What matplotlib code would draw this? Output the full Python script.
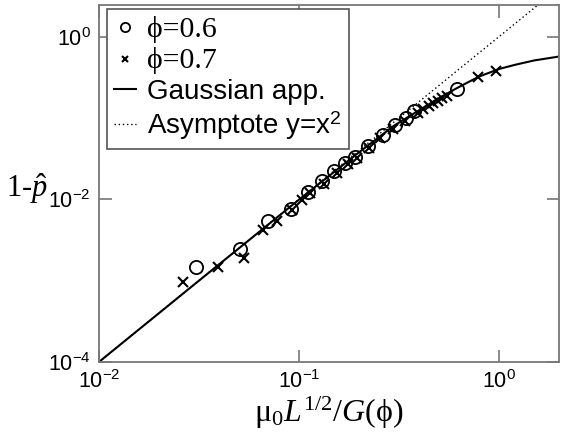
import matplotlib
matplotlib.use("Agg")
from matplotlib import pyplot as plt

plt.rcParams["font.family"] = ["Liberation Sans", "DejaVu Sans"]
plt.rcParams["mathtext.fontset"] = "custom"
plt.rcParams["mathtext.rm"] = "Liberation Serif"
plt.rcParams["mathtext.it"] = "Liberation Serif:italic"
plt.rcParams["mathtext.fallback"] = "stix"

# phi = 0.6
x06 = [0.0304, 0.0505, 0.0703, 0.0913, 0.111, 0.131, 0.150, 0.170, 0.190,
       0.220, 0.263, 0.303, 0.344, 0.377, 0.62]
y06 = [0.00146, 0.00246, 0.00545, 0.0076, 0.0122, 0.017, 0.0222, 0.0281, 0.033,
       0.045, 0.0617, 0.0813, 0.101, 0.122, 0.23]

# phi = 0.7
x07 = [0.0262, 0.0394, 0.0528, 0.066, 0.078, 0.0925, 0.104, 0.114, 0.133,
       0.155, 0.175, 0.194, 0.224, 0.254, 0.294, 0.338, 0.394, 0.419, 0.446,
       0.470, 0.494, 0.521, 0.548, 0.789, 0.971]
y07 = [0.00097, 0.00146, 0.00189, 0.00422, 0.00535, 0.0074, 0.0099, 0.012, 0.0155,
       0.0211, 0.0268, 0.0325, 0.043, 0.0572, 0.0738, 0.0918, 0.1164, 0.128, 0.141,
       0.152, 0.162, 0.175, 0.187, 0.321, 0.373]

# gaussian approximation
xg = [0.01, 0.03, 0.1, 0.2, 0.3, 0.4, 0.5, 0.6, 0.7, 0.8, 1.0, 1.2, 1.5, 2.0]
yg = [1.0e-4, 9.0e-4, 0.0099, 0.038, 0.081, 0.125, 0.175, 0.225, 0.275, 0.325,
      0.40, 0.45, 0.51, 0.57]

# asymptote y = x^2
xa = [0.01, 2.0]
ya = [1.0e-4, 4.0]

fig = plt.figure(figsize=(5.66, 4.36), dpi=100)
ax = fig.add_axes([0.175, 0.170, 0.813, 0.8185])

ax.plot(xa, ya, ls=(0, (1, 2)), color="k", lw=1.0, label="Asymptote y=x$^\\mathdefault{2}$")
ax.plot(xg, yg, "-", color="k", lw=1.5, label="Gaussian app.")
ax.plot(x06, y06, "o", ms=9.5, mfc="none", mec="k", mew=1.3, label="ϕ=0.6")
ax.plot(x07, y07, "x", ms=7, color="k", mew=1.5, label="ϕ=0.7")

ax.set_xscale("log")
ax.set_yscale("log")
ax.set_xlim(0.01, 2.0)
ax.set_ylim(1e-4, 2.45)
ax.set_xticks([1e-2, 1e-1, 1e0])
ax.set_yticks([1e-4, 1e-2, 1e0])
ax.minorticks_off()
ax.tick_params(which="both", direction="in", top=True, right=True, length=9,
               width=1.2, color="#777777", labelsize=15.5, pad=6)
for s in ax.spines.values():
    s.set_color("#777777")
    s.set_linewidth(1.3)

ax.set_xlabel(r"$\mathrm{\mu}_{\mathit{0}}\mathit{L}^{\mathrm{1/2}}\mathrm{/}\mathit{G}\mathrm{(\phi)}$",
              fontsize=23, labelpad=1)
fig.text(0.048, 0.568, r"$\mathit{1}$-$\hat{\mathit{p}}$", fontsize=22,
         family="Liberation Serif", ha="center", va="center")

h, l = ax.get_legend_handles_labels()
order = [2, 3, 1, 0]
leg = ax.legend([h[i] for i in order], [l[i] for i in order], loc="upper left",
                bbox_to_anchor=(0.0174, 0.989), borderaxespad=0, fontsize=20,
                fancybox=False, framealpha=1, edgecolor="#555555",
                handlelength=0.8, handletextpad=0.4, labelspacing=0.16,
                borderpad=0.25, markerscale=0.7)
leg.get_frame().set_linewidth(1.2)
for t in leg.get_texts()[:2]:
    t.set_fontfamily(["Liberation Serif", "DejaVu Serif"])
    t.set_fontsize(21.5)

fig.savefig("out.png", dpi=100)
